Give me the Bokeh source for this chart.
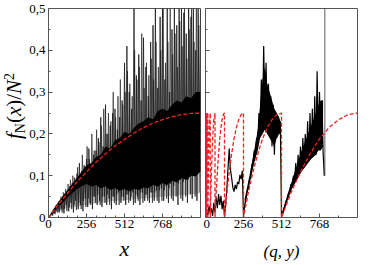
import numpy as np
from bokeh.plotting import figure
from bokeh.layouts import row
from bokeh.models import FixedTicker, Range1d, Div
from bokeh.embed import file_html
from bokeh.resources import INLINE

# ---------------- data ----------------
y_ticks = [0, 0.1, 0.2, 0.3, 0.4, 0.5]
y_tick_labels = ["0", "0,1", "0,2", "0,3", "0,4", "0,5"]
y_minor = [0.05, 0.15, 0.25, 0.35, 0.45]
x_ticks = [0, 256, 512, 768]
x_tick_labels = ["0", "256", "512", "768"]
x_minor_left = [64, 128, 192, 320, 384, 448, 576, 640, 704, 832, 896, 960]
x_minor_right = [128, 384, 640, 896]

# left panel: f_N(x)/N^2, samples at x = 0, 8, 16, ...
left_x = list(range(0, 1025, 8))
left_f = [
    0.000, 0.003, 0.008, 0.006, 0.013, 0.010, 0.020, 0.016, 0.030,
    0.012, 0.042, 0.020, 0.050, 0.010, 0.058, 0.030, 0.066,
    0.015, 0.075, 0.035, 0.082, 0.012, 0.095, 0.040, 0.105, 0.020,
    0.130, 0.030, 0.110, 0.015, 0.125, 0.045, 0.140, 0.025,
    0.165, 0.035, 0.130, 0.020, 0.150, 0.050, 0.160, 0.030, 0.190,
    0.040, 0.240, 0.025, 0.170, 0.050, 0.270, 0.030, 0.200,
    0.045, 0.220, 0.020, 0.250, 0.050, 0.260, 0.030, 0.210,
    0.060, 0.240, 0.035, 0.280, 0.050, 0.370, 0.030, 0.410,
    0.055, 0.300, 0.040, 0.260, 0.060, 0.500, 0.035, 0.340,
    0.050, 0.390, 0.030, 0.280, 0.060, 0.430, 0.040, 0.360,
    0.055, 0.290, 0.035, 0.420, 0.060, 0.460, 0.040, 0.500,
    0.065, 0.310, 0.035, 0.480, 0.070, 0.500, 0.040, 0.330,
    0.075, 0.500, 0.035, 0.300, 0.080, 0.450, 0.040, 0.500,
    0.085, 0.460, 0.030, 0.500, 0.090, 0.500, 0.040, 0.490,
    0.095, 0.440, 0.035, 0.500, 0.100, 0.480, 0.045, 0.500,
    0.110, 0.400, 0.040, 0.500, 0.120, 0.500,
]
# left panel: samples in between, at x = 4, 12, 20, ...
left_x2 = list(range(4, 1021, 8))
left_f2 = [
    0.004, 0.002, 0.012, 0.004, 0.020, 0.008, 0.030, 0.012,
    0.038, 0.018, 0.050, 0.012, 0.060, 0.022, 0.068, 0.015,
    0.080, 0.025, 0.090, 0.020, 0.100, 0.030, 0.085, 0.018,
    0.120, 0.035, 0.100, 0.020, 0.150, 0.040, 0.120, 0.025,
    0.170, 0.045, 0.140, 0.030, 0.200, 0.050, 0.160, 0.035,
    0.210, 0.055, 0.180, 0.030, 0.220, 0.050, 0.260, 0.035,
    0.200, 0.055, 0.250, 0.030, 0.230, 0.050, 0.300, 0.035,
    0.240, 0.055, 0.290, 0.030, 0.330, 0.050, 0.270, 0.040,
    0.300, 0.055, 0.350, 0.035, 0.320, 0.050, 0.290, 0.030,
    0.400, 0.055, 0.330, 0.040, 0.360, 0.060, 0.440, 0.035,
    0.310, 0.055, 0.370, 0.040, 0.340, 0.060, 0.380, 0.035,
    0.330, 0.060, 0.420, 0.040, 0.360, 0.065, 0.400, 0.040,
    0.500, 0.065, 0.370, 0.045, 0.420, 0.070, 0.500, 0.045,
    0.390, 0.075, 0.440, 0.050, 0.360, 0.080, 0.470, 0.045,
    0.410, 0.085, 0.500, 0.050, 0.380, 0.090, 0.450, 0.055,
    0.500, 0.100, 0.420, 0.050, 0.500, 0.110, 0.460, 0.060,
]
# dense black core and grey fringe of the left panel
core_x = list(range(0, 1025, 32))
core_lo = [0, 0.012, 0.025, 0.035, 0.048, 0.058, 0.068, 0.075, 0.080, 0.074, 0.078,
           0.070, 0.074, 0.066, 0.070, 0.064, 0.068, 0.062, 0.068, 0.066, 0.072,
           0.070, 0.078, 0.074, 0.082, 0.078, 0.088, 0.084, 0.094, 0.090, 0.100, 0.098, 0.110]
core_hi = [0, 0.020, 0.036, 0.050, 0.066, 0.080, 0.095, 0.110, 0.125, 0.130, 0.145,
           0.150, 0.170, 0.165, 0.185, 0.190, 0.205, 0.200, 0.215, 0.225, 0.230,
           0.240, 0.235, 0.255, 0.260, 0.255, 0.270, 0.280, 0.275, 0.290, 0.285, 0.300, 0.300]
fringe_lo = [0, 0.008, 0.014, 0.018, 0.022, 0.024, 0.026, 0.028, 0.030, 0.032, 0.034,
             0.036, 0.036, 0.038, 0.040, 0.040, 0.042, 0.042, 0.044, 0.044, 0.046,
             0.046, 0.048, 0.048, 0.050, 0.050, 0.052, 0.052, 0.054, 0.054, 0.056, 0.056, 0.058]

# left red dashed curve
left_red_x = [0, 64, 128, 192, 256, 320, 384, 448, 512, 576, 640, 704, 768, 832, 896, 960, 1024]
left_red_y = [0, 0.030, 0.058, 0.085, 0.109, 0.132, 0.152, 0.171, 0.187, 0.202, 0.215,
              0.226, 0.234, 0.241, 0.246, 0.249, 0.250]

# right panel: values against (q, y), samples every 8 units
right_x = list(range(0, 801, 8))
right_f = [
    0.000, 0.020, 0.005, 0.028, 0.010, 0.022, 0.004, 0.035, 0.012,
    0.048, 0.022, 0.056, 0.030, 0.052, 0.020, 0.040, 0.002,
    0.030, 0.070, 0.120, 0.165, 0.115, 0.095, 0.072, 0.062, 0.078,
    0.068, 0.085, 0.080, 0.102, 0.092, 0.112, 0.002,
    0.030, 0.040, 0.062, 0.068, 0.090, 0.095, 0.125, 0.130, 0.160,
    0.150, 0.190, 0.175, 0.250, 0.200, 0.330, 0.220, 0.410, 0.240,
    0.370, 0.220, 0.320, 0.200, 0.290, 0.170, 0.270, 0.150, 0.250,
    0.190, 0.240, 0.200, 0.230, 0.002,
    0.012, 0.022, 0.030, 0.040, 0.045, 0.058, 0.062, 0.080, 0.072,
    0.100, 0.085, 0.130, 0.095, 0.150, 0.105, 0.170, 0.115, 0.190,
    0.120, 0.200, 0.130, 0.230, 0.140, 0.250, 0.150, 0.260, 0.160,
    0.290, 0.150, 0.350, 0.170, 0.300, 0.180, 0.280, 0.160, 0.100,
]
right_tail_x = [804, 804]
right_tail_y = [0.10, 0.50]
# dense parts of the right panel
rcore_a_x = [264, 296, 328, 352, 368, 384, 400, 416, 432, 448, 464, 480, 496, 504]
rcore_a_lo = [0.030, 0.080, 0.130, 0.160, 0.190, 0.200, 0.210, 0.200, 0.190, 0.180, 0.170, 0.190, 0.200, 0.200]
rcore_a_hi = [0.045, 0.100, 0.160, 0.210, 0.270, 0.330, 0.360, 0.320, 0.300, 0.280, 0.260, 0.250, 0.240, 0.230]
rcore_b_x = [520, 552, 584, 616, 648, 680, 712, 744, 760, 776, 792]
rcore_b_lo = [0.005, 0.040, 0.070, 0.090, 0.110, 0.125, 0.140, 0.150, 0.160, 0.160, 0.170]
rcore_b_hi = [0.015, 0.055, 0.090, 0.125, 0.160, 0.190, 0.220, 0.250, 0.270, 0.280, 0.280]

# right red dashed curve (arcs restarting at powers of two)
right_red_x = [1, 2, 2, 4, 4, 8, 8, 12, 16, 16, 20, 24, 28, 32,
               32, 40, 48, 56, 64,
               64, 72, 80, 88, 96, 104, 112, 120, 128,
               128, 144, 160, 176, 192, 208, 224, 240, 256,
               256, 288, 320, 352, 384, 416, 448, 480, 512,
               512, 576, 640, 704, 768, 832, 896, 960, 1024]
right_red_y = [0, 0.25, 0, 0.25, 0, 0.25, 0, 0.188, 0.25, 0, 0.109, 0.188, 0.234, 0.25,
               0, 0.109, 0.188, 0.234, 0.25,
               0, 0.059, 0.109, 0.152, 0.188, 0.215, 0.234, 0.246, 0.25,
               0, 0.059, 0.109, 0.152, 0.188, 0.215, 0.234, 0.246, 0.25,
               0, 0.059, 0.109, 0.152, 0.188, 0.215, 0.234, 0.246, 0.25,
               0, 0.059, 0.109, 0.152, 0.188, 0.215, 0.234, 0.246, 0.25]

# y-axis title: f_N(x)/N^2
ylabel_html = "<i>f</i><sub>N</sub>(<i>x</i>)/<i>N</i><sup>2</sup>"

# ---------------- styling ----------------
FONT = "Liberation Serif"
AX = "#555555"
RED = "#ee2222"
FRAME_W, FRAME_H = 152, 209
TOP, BOTTOM = 8, 40
TOTAL_H = TOP + FRAME_H + BOTTOM


def make_fig(min_left, min_right, xminor, xlabel, xlabel_size, standoff):
    p = figure(frame_width=FRAME_W, frame_height=FRAME_H,
               x_range=Range1d(0, 1024), y_range=Range1d(0, 0.5),
               output_backend="svg", toolbar_location=None,
               min_border_left=min_left, min_border_right=min_right,
               min_border_top=TOP, min_border_bottom=BOTTOM)
    p.grid.visible = False
    p.outline_line_color = AX
    p.outline_line_width = 1
    p.background_fill_color = "white"
    p.border_fill_color = "white"
    p.xaxis.ticker = FixedTicker(ticks=x_ticks, minor_ticks=xminor)
    p.xaxis.major_label_overrides = dict(zip(x_ticks, x_tick_labels))
    p.yaxis.ticker = FixedTicker(ticks=y_ticks, minor_ticks=y_minor)
    for ax in (p.xaxis[0], p.yaxis[0]):
        ax.axis_line_color = AX
        ax.major_tick_line_color = AX
        ax.minor_tick_line_color = AX
        ax.major_tick_in = 4
        ax.major_tick_out = 0
        ax.minor_tick_in = 2
        ax.minor_tick_out = 0
        ax.major_label_text_font = FONT
        ax.major_label_text_font_size = "13px"
        ax.major_label_text_color = "black"
    p.xaxis.major_label_standoff = 2
    p.yaxis.major_label_standoff = 3
    p.xaxis.axis_label = xlabel
    p.xaxis.axis_label_text_font = FONT
    p.xaxis.axis_label_text_font_style = "italic"
    p.xaxis.axis_label_text_font_size = xlabel_size
    p.xaxis.axis_label_text_color = "black"
    p.xaxis.axis_label_standoff = standoff
    return p


def y_overrides(labels):
    ov = {}
    for t, s in zip(y_ticks, labels):
        ov[float(t)] = s
        ov[str(t)] = s
    return ov


# ---- title column (rotated y label, HTML text) ----
LABEL_W = 26
BOX_W, BOX_H = 110, 26
CX, CY = 14, 106        # centre of the label inside the column (px)
label_css = (
    f"width:{BOX_W}px;height:{BOX_H}px;"
    f"margin-left:{CX - BOX_W // 2}px;margin-top:{CY - BOX_H // 2}px;"
    "transform:rotate(-90deg);transform-origin:50% 50%;"
    "white-space:nowrap;text-align:center;"
    f"font-family:'{FONT}',serif;font-size:21px;line-height:{BOX_H}px;color:#000;"
)
sub_css = "font-size:14px;vertical-align:-4px;line-height:0;"
sup_css = "font-size:14px;vertical-align:7px;line-height:0;"
html = (f'<div style="{label_css}">'
        + ylabel_html.replace("<sub>", f'<sub style="{sub_css}">')
                     .replace("<sup>", f'<sup style="{sup_css}">')
        + "</div>")
ylab = Div(text=html, width=LABEL_W, height=TOTAL_H, margin=(0, 0, 0, 0),
           styles={"overflow": "visible"})

# ---- left panel ----
p1 = make_fig(18, 3, x_minor_left, "x", "22px", 5)
p1.yaxis.major_label_overrides = y_overrides(y_tick_labels)
p1.varea(x=core_x, y1=fringe_lo, y2=core_lo, fill_color="#c4c4c4")
p1.line(left_x2, left_f2, line_color="#2a2a2a", line_width=0.7)
p1.line(left_x, left_f, line_color="#1a1a1a", line_width=0.8)
p1.varea(x=core_x, y1=core_lo, y2=core_hi, fill_color="black")
p1.line(left_red_x, left_red_y, line_color=RED, line_width=1.3, line_dash="4 2")

# ---- right panel ----
p2 = make_fig(2, 4, x_minor_right, "(q, y)", "17px", 11)
p2.yaxis.major_label_overrides = y_overrides([""] * len(y_ticks))
p2.yaxis.major_label_standoff = 0
p2.varea(x=rcore_a_x, y1=rcore_a_lo, y2=rcore_a_hi, fill_color="black")
p2.varea(x=rcore_b_x, y1=rcore_b_lo, y2=rcore_b_hi, fill_color="black")
p2.line(right_x, right_f, line_color="black", line_width=1.2)
p2.line(right_tail_x, right_tail_y, line_color="#333333", line_width=0.8)
p2.line(right_red_x, right_red_y, line_color=RED, line_width=1.3, line_dash="4 2")

layout = row(ylab, p1, p2)
open("out.html", "w").write(file_html(layout, INLINE))
